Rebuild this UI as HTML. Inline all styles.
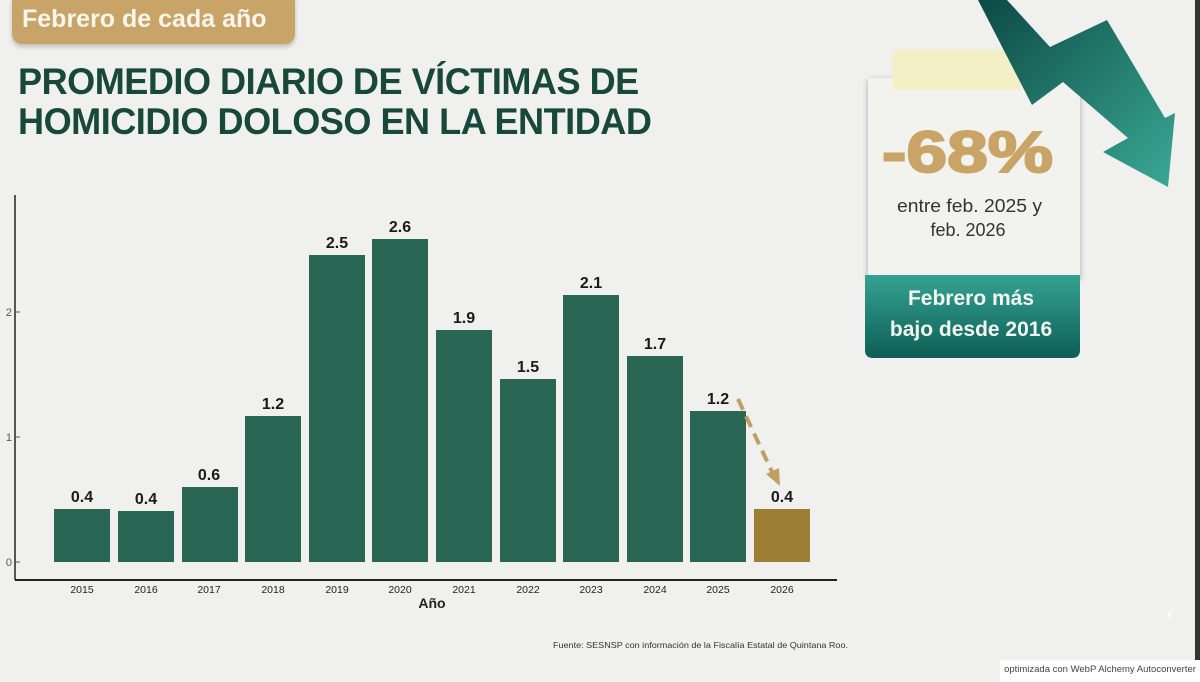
<!DOCTYPE html>
<html><head><meta charset="utf-8"><style>
body{margin:0;width:1200px;height:682px;background:#f0f0ef;position:relative;overflow:hidden;font-family:"Liberation Sans","DejaVu Sans",sans-serif}
.abs{position:absolute}
</style></head><body>
<div class="abs" style="left:12px;top:-8px;width:283px;height:52px;background:#c9a468;border-radius:10px;box-shadow:0 3px 5px rgba(0,0,0,.2)"></div>
<div class="abs" style="left:22px;top:5px;font-size:25px;font-weight:bold;color:#fbf6ec">Febrero de cada año</div>
<div class="abs" style="left:18px;top:62px;font-size:37px;line-height:40px;font-weight:900;color:#17483a;letter-spacing:-0.5px;transform:scaleX(0.975);transform-origin:left;white-space:nowrap">PROMEDIO DIARIO DE VÍCTIMAS DE<br>HOMICIDIO DOLOSO EN LA ENTIDAD</div>
<svg class="abs" style="left:0;top:0" width="1200" height="682">
<line x1="15" y1="195" x2="15" y2="580" stroke="#222" stroke-width="1.5"/>
<line x1="15" y1="580" x2="837" y2="580" stroke="#222" stroke-width="2"/>
<g stroke="#555" stroke-width="1"><line x1="15" y1="562" x2="20" y2="562"/><line x1="15" y1="437" x2="20" y2="437"/><line x1="15" y1="312" x2="20" y2="312"/></g>
<g font-size="11" fill="#555" text-anchor="end"><text x="12" y="566">0</text><text x="12" y="441">1</text><text x="12" y="316">2</text></g>
<g fill="#296653">
<rect x="54" y="509" width="56" height="53"/><rect x="118" y="511" width="56" height="51"/><rect x="182" y="487" width="56" height="75"/><rect x="245" y="416" width="56" height="146"/><rect x="309" y="255" width="56" height="307"/><rect x="372" y="239" width="56" height="323"/><rect x="436" y="330" width="56" height="232"/><rect x="500" y="379" width="56" height="183"/><rect x="563" y="295" width="56" height="267"/><rect x="627" y="356" width="56" height="206"/><rect x="690" y="411" width="56" height="151"/></g>
<rect x="754" y="509" width="56" height="53" fill="#9d7f34"/>
<g font-size="16" font-weight="bold" fill="#1a1a1a" text-anchor="middle">
<text x="82" y="502">0.4</text><text x="146" y="504">0.4</text><text x="209" y="480">0.6</text><text x="273" y="409">1.2</text><text x="337" y="248">2.5</text><text x="400" y="232">2.6</text><text x="464" y="323">1.9</text><text x="528" y="372">1.5</text><text x="591" y="288">2.1</text><text x="655" y="349">1.7</text><text x="718" y="404">1.2</text><text x="782" y="502">0.4</text></g>
<g font-size="10.5" fill="#222" text-anchor="middle">
<text x="82" y="593">2015</text><text x="146" y="593">2016</text><text x="209" y="593">2017</text><text x="273" y="593">2018</text><text x="337" y="593">2019</text><text x="400" y="593">2020</text><text x="464" y="593">2021</text><text x="528" y="593">2022</text><text x="591" y="593">2023</text><text x="655" y="593">2024</text><text x="718" y="593">2025</text><text x="782" y="593">2026</text></g>
<text x="432" y="608" font-size="14" font-weight="bold" fill="#222" text-anchor="middle">Año</text>
<text x="553" y="648" font-size="8.5" fill="#333" textLength="295" lengthAdjust="spacingAndGlyphs">Fuente: SESNSP con información de la Fiscalía Estatal de Quintana Roo.</text>
<line x1="738" y1="399" x2="773" y2="474" stroke="#c0a062" stroke-width="4" stroke-dasharray="12,7"/>
<polygon points="780,486 766,474 779,468" fill="#c0a062"/>
<defs><linearGradient id="ag" x1="0" y1="0" x2="1" y2="1"><stop offset="0" stop-color="#0c4a44"/><stop offset="1" stop-color="#3aa995"/></linearGradient>
<linearGradient id="tg" x1="0" y1="0" x2="0" y2="1"><stop offset="0" stop-color="#35a392"/><stop offset="1" stop-color="#0e5e55"/></linearGradient></defs>
<rect x="868" y="78" width="212" height="200" fill="#f2f2ee" style="filter:drop-shadow(0 2px 3px rgba(0,0,0,.3))"/>
<rect x="893" y="50" width="128" height="40" fill="#f3f0c8"/>
<polygon points="978,0 1007,0 1050,47 1107,20 1165,118 1175,113 1168,187 1103,152 1128,138 1063,82 1032,105" fill="url(#ag)"/>
<path d="M865 275 H1080 V350 Q1080 358 1072 358 H873 Q865 358 865 350Z" fill="url(#tg)"/>
<text x="882" y="172" font-size="58" font-weight="900" fill="#caa366" stroke="#caa366" stroke-width="2" textLength="171" lengthAdjust="spacingAndGlyphs">-68%</text>
<text x="897" y="212" font-size="18" fill="#333" textLength="145" lengthAdjust="spacingAndGlyphs">entre feb. 2025 y</text>
<text x="968" y="236" font-size="18" fill="#333" text-anchor="middle">feb. 2026</text>
<text x="971" y="305" font-size="21" font-weight="bold" fill="#f2f6f3" text-anchor="middle">Febrero más</text>
<text x="971" y="336" font-size="21" font-weight="bold" fill="#f2f6f3" text-anchor="middle">bajo desde 2016</text>
<rect x="1195" y="0" width="5" height="682" fill="#333"/>
<text x="1170" y="620" font-size="20" fill="#fff" text-anchor="middle">‹</text>
<rect x="1000" y="660" width="200" height="22" fill="#fff"/>
<text x="1100" y="672" font-size="9.5" fill="#444" text-anchor="middle">optimizada con WebP Alchemy Autoconverter</text>
</svg>
</body></html>
